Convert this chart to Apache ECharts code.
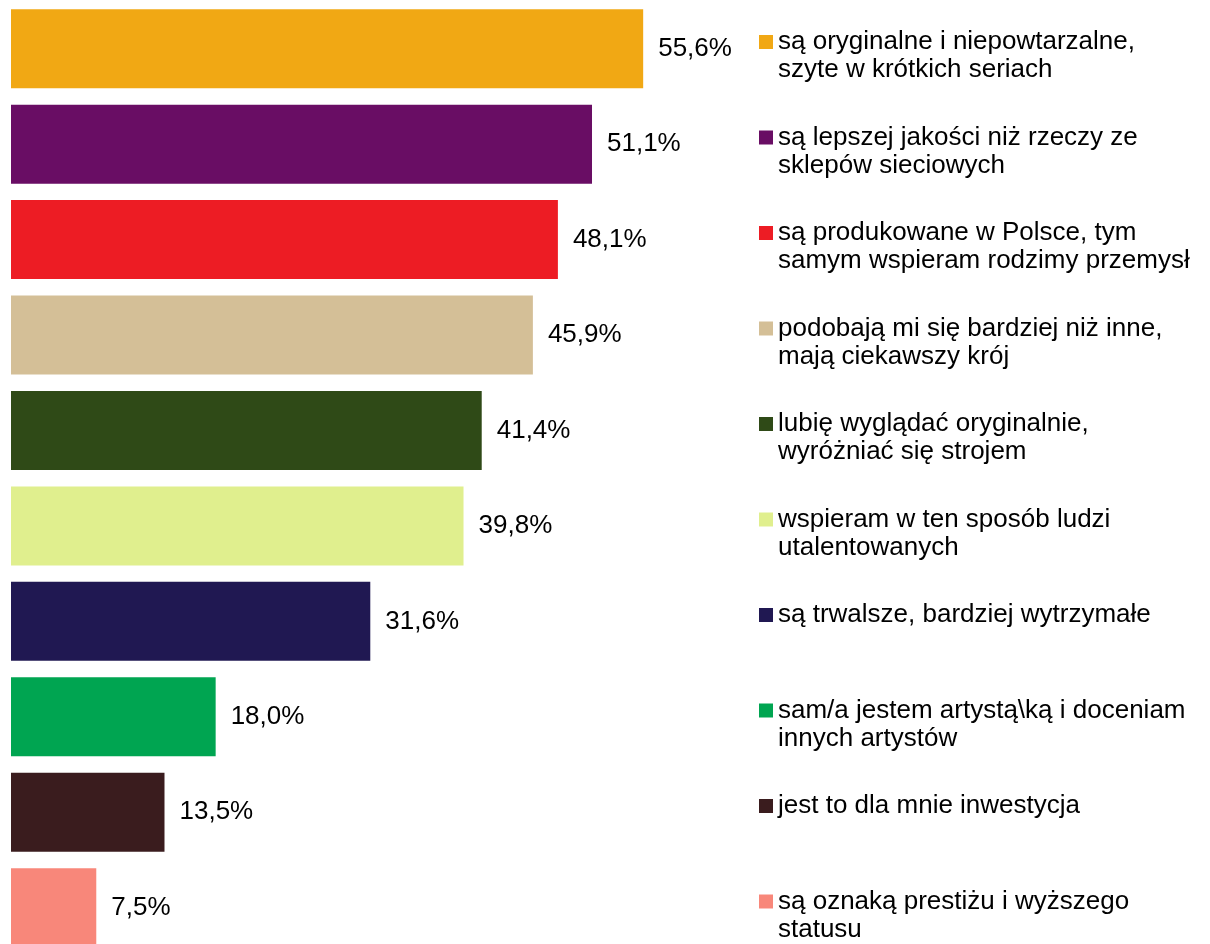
<!DOCTYPE html>
<html>
<head>
<meta charset="utf-8">
<script src="https://cdn.jsdelivr.net/npm/echarts@6/dist/echarts.min.js"></script>
<style>
  html, body { margin: 0; padding: 0; background: #ffffff; }
  #chart { width: 1210px; height: 944px; }
</style>
</head>
<body>
<div id="chart"></div>
<script>
// Reasons for buying (share of answers, %), top to bottom
const reasonLines = [
  ['są oryginalne i niepowtarzalne,', 'szyte w krótkich seriach'],
  ['są lepszej jakości niż rzeczy ze', 'sklepów sieciowych'],
  ['są produkowane w Polsce, tym', 'samym wspieram rodzimy przemysł'],
  ['podobają mi się bardziej niż inne,', 'mają ciekawszy krój'],
  ['lubię wyglądać oryginalnie,', 'wyróżniać się strojem'],
  ['wspieram w ten sposób ludzi', 'utalentowanych'],
  ['są trwalsze, bardziej wytrzymałe'],
  ['sam/a jestem artystą\\ką i doceniam', 'innych artystów'],
  ['jest to dla mnie inwestycja'],
  ['są oznaką prestiżu i wyższego', 'statusu']
];
const shares = [55.6, 51.1, 48.1, 45.9, 41.4, 39.8, 31.6, 18.0, 13.5, 7.5];
const barColors = [
  '#F1A814', '#690D64', '#ED1C24', '#D4BF97', '#2F4A17',
  '#E0EF8E', '#201852', '#00A551', '#3A1C1E', '#F8877A'
];

const reasonNames = reasonLines.map(l => l.join(' '));
const categoryKeys = reasonNames.map((_, i) => 'r' + i);
const fontFamily = '"Liberation Sans", Arial, sans-serif';

// One series per reason so each gets its own legend entry and colour
const series = reasonNames.map((name, i) => ({
  name: name,
  type: 'bar',
  barWidth: 79,
  barGap: '-100%',
  itemStyle: { color: barColors[i] },
  label: {
    show: true,
    position: 'right',
    distance: 15,
    color: '#000000',
    fontFamily: fontFamily,
    fontSize: 26,
    formatter: p => p.value.toFixed(1).replace('.', ',') + '%'
  },
  data: shares.map((v, j) => (j === i ? v : '-'))
}));

// Legend text is padded to three lines so the marker sits on the first text line
const legendText = {};
reasonLines.forEach((lines, i) => {
  const padded = [' '].concat(lines);
  while (padded.length < 3) padded.push(' ');
  legendText[reasonNames[i]] = padded.join('\n');
});

const chart = echarts.init(document.getElementById('chart'), null, { renderer: 'canvas' });
chart.setOption({
  animation: false,
  backgroundColor: '#ffffff',
  // the last band runs slightly past the bottom edge of the canvas
  grid: {
    left: 11, width: 1137, top: 1, height: 954.4,
    containLabel: false,
    outerBoundsMode: 'none'
  },
  xAxis: { type: 'value', min: 0, max: 100, show: false },
  yAxis: { type: 'category', data: categoryKeys, inverse: true, show: false },
  legend: {
    orient: 'vertical',
    left: 759,
    top: 0,
    padding: 0,
    itemWidth: 14,
    itemHeight: 14,
    itemGap: 11.5,
    icon: 'rect',
    selectedMode: false,
    data: reasonNames,
    formatter: name => legendText[name],
    textStyle: {
      color: '#000000',
      fontFamily: fontFamily,
      fontSize: 26,
      lineHeight: 28
    }
  },
  series: series
});
</script>
</body>
</html>
